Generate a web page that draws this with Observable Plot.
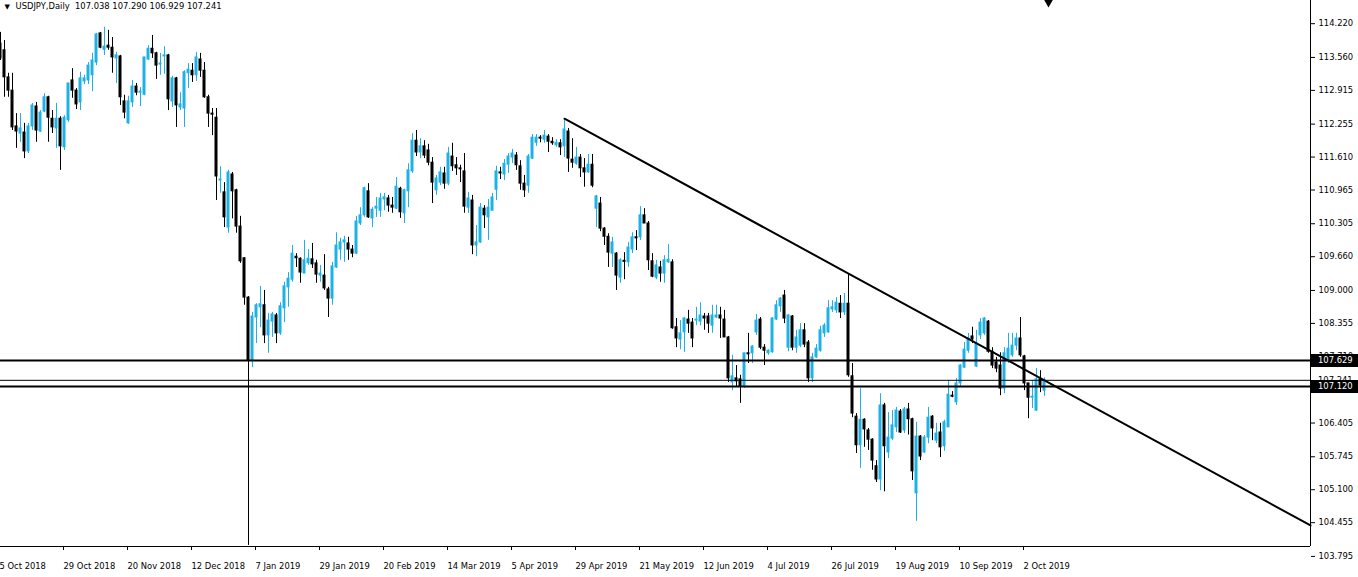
<!DOCTYPE html>
<html>
<head>
<meta charset="utf-8">
<script src="https://cdn.jsdelivr.net/npm/d3@7"></script>
<script src="https://cdn.jsdelivr.net/npm/@observablehq/plot@0.6"></script>
<style>
  html, body { margin: 0; padding: 0; background: #ffffff; }
  #chart svg { display: block; }
</style>
</head>
<body>
<div id="chart"></div>
<script>
// ---- data (daily bars, index 0 = 5 Oct 2018) ----
const symbolName = "USDJPY,Daily";
const opens = [113.83,113.70,113.17,112.91,112.21,112.07,112.09,111.72,112.21,112.60,112.11,112.50,112.78,112.36,112.17,112.36,111.80,112.33,113.11,112.91,112.68,113.09,113.11,113.21,113.46,114.03,113.71,113.79,113.75,113.54,113.58,112.70,112.27,112.68,112.99,112.87,112.83,113.52,113.73,113.64,113.42,113.58,113.60,112.70,113.15,112.58,112.56,113.25,113.30,113.21,113.52,113.30,112.78,112.46,112.38,111.15,110.92,110.23,111.27,110.96,110.25,109.63,108.86,107.63,108.47,108.67,108.71,108.12,108.39,108.51,108.16,108.65,109.06,109.21,109.66,109.62,109.33,109.53,109.61,109.53,109.29,109.29,109.02,108.84,109.45,109.80,109.94,109.92,109.80,109.72,110.31,110.47,110.94,110.41,110.60,110.56,110.78,110.80,110.66,110.60,110.99,110.51,110.94,111.33,111.93,111.70,111.82,111.74,111.50,110.96,111.11,111.29,111.09,111.62,111.45,111.39,111.33,110.62,110.76,109.88,109.94,110.60,110.43,110.56,110.97,111.31,111.27,111.46,111.60,111.64,111.43,111.09,111.05,111.58,111.89,111.99,111.95,112.01,111.91,111.84,111.88,111.82,112.11,111.56,111.48,111.60,111.39,111.31,111.46,110.60,110.70,110.21,110.05,109.72,109.72,109.25,109.58,109.55,109.80,110.04,110.04,110.47,110.31,109.57,109.25,109.45,109.33,109.55,109.55,108.28,108.04,108.18,108.43,108.37,108.41,108.39,108.49,108.49,108.31,108.47,108.51,108.43,108.08,107.20,107.28,107.26,107.12,107.77,107.77,108.18,108.43,107.88,107.77,107.79,108.43,108.69,108.90,107.88,108.49,107.88,107.92,108.22,107.98,107.28,107.69,107.82,108.16,108.18,108.63,108.61,108.74,108.57,108.74,107.32,106.53,105.97,106.47,106.26,106.08,105.56,105.30,106.75,105.83,106.10,106.32,106.63,106.26,106.67,106.48,105.03,106.14,105.83,106.12,106.53,106.06,106.22,105.95,106.32,106.94,106.81,107.18,107.49,107.82,108.10,107.51,108.12,108.16,108.39,107.80,107.59,107.53,107.08,107.63,107.73,107.92,108.06,107.71,107.18,106.90,106.65,107.26,107.038];
const highs = [114.05,113.89,113.25,113.25,112.46,112.46,112.27,112.27,112.66,112.68,112.52,112.85,112.80,112.52,112.66,112.40,112.42,113.05,113.34,112.95,113.27,113.21,113.46,113.64,114.03,114.05,114.15,114.09,113.95,113.66,113.60,112.82,112.80,113.11,113.05,112.97,113.56,113.79,113.99,113.66,113.64,113.77,113.62,113.19,113.17,112.87,113.30,113.44,113.44,113.66,113.64,113.46,112.82,112.56,112.56,111.42,111.11,111.35,111.31,110.98,110.45,109.64,108.88,108.57,108.74,109.08,109.00,108.55,108.57,108.55,108.76,109.16,109.35,109.88,109.72,109.64,109.98,109.80,109.92,109.59,109.49,109.70,109.06,109.55,110.13,110.02,110.06,110.04,109.88,110.45,110.62,111.02,111.09,110.62,110.82,110.90,110.90,110.86,110.82,111.21,111.02,110.98,111.48,112.07,112.13,111.97,111.93,111.86,111.60,111.25,111.41,111.41,111.80,111.88,111.60,111.45,111.68,110.92,110.86,110.27,110.70,110.66,110.78,110.90,111.43,111.41,111.56,111.68,111.76,111.70,111.54,111.25,111.66,112.05,112.05,112.03,112.13,112.05,111.99,111.95,111.95,112.36,112.17,111.97,111.80,111.66,111.58,111.66,111.66,110.86,110.82,110.23,110.11,110.04,109.74,109.62,109.74,109.94,110.13,110.17,110.64,110.60,110.35,109.72,109.59,109.57,109.68,109.90,109.60,108.45,108.41,108.47,108.61,108.45,108.67,108.76,108.55,108.55,108.71,108.71,108.67,108.61,108.10,107.73,107.53,107.34,107.77,108.16,107.92,108.53,108.47,107.94,107.84,108.47,108.80,108.86,109.00,108.53,108.51,108.22,108.35,108.35,108.02,107.77,107.94,108.30,108.35,108.80,108.80,108.86,108.90,108.94,109.33,107.57,106.59,107.08,106.49,106.30,106.10,105.67,106.98,106.79,106.61,106.65,106.71,106.67,106.71,106.79,106.50,106.42,106.16,106.16,106.71,106.55,106.40,106.40,106.46,107.24,107.02,107.28,107.55,107.98,108.16,108.28,108.22,108.45,108.47,108.41,107.88,107.69,107.78,107.88,108.16,108.16,108.16,108.47,107.73,107.18,107.24,107.47,107.43,107.290];
const lows = [113.50,112.78,112.78,112.13,111.78,111.90,111.58,111.68,112.13,111.90,112.09,112.48,111.90,112.07,111.78,111.35,111.74,112.29,112.76,112.54,112.52,113.03,113.03,112.89,113.40,113.73,113.60,113.70,113.25,113.05,112.62,112.36,112.25,112.58,112.81,112.60,112.81,113.50,113.54,113.13,113.21,113.23,112.52,112.58,112.19,112.52,112.19,112.95,113.07,113.09,113.17,112.76,112.19,112.03,110.76,110.90,110.23,110.12,110.40,110.12,109.53,108.71,104.01,107.49,107.96,108.27,107.96,107.77,108.08,107.96,108.12,108.37,108.67,109.16,109.45,109.14,109.33,109.49,109.43,109.14,109.16,109.00,108.47,108.71,109.43,109.59,109.55,109.59,109.64,109.70,110.27,110.43,110.41,110.23,110.43,110.43,110.56,110.53,110.51,110.58,110.41,110.31,110.62,111.29,111.62,111.58,111.58,111.44,110.70,110.86,111.05,110.98,111.05,111.33,111.25,111.11,110.51,110.51,109.70,109.66,109.92,110.21,109.98,110.56,110.76,111.17,111.15,111.29,111.48,111.35,110.96,110.82,110.90,111.56,111.82,111.89,111.88,111.70,111.84,111.80,111.64,111.60,111.31,111.39,111.45,111.21,111.02,111.29,111.01,110.23,110.15,109.88,109.45,109.45,109.00,109.14,109.21,109.45,109.72,109.78,109.98,110.31,109.39,109.25,109.21,109.16,109.14,109.53,108.24,107.88,107.84,107.79,108.16,107.88,108.31,108.31,108.22,108.16,108.16,108.45,108.06,108.08,107.20,107.04,107.10,106.79,107.08,107.57,107.57,108.12,107.84,107.53,107.73,107.77,108.41,108.57,108.35,107.80,107.82,107.77,107.88,107.88,107.20,107.20,107.67,107.79,108.08,108.16,108.57,108.55,108.45,108.51,107.30,106.51,105.81,105.52,105.93,105.87,105.48,105.24,105.08,105.06,105.71,106.06,106.22,106.20,106.20,106.17,105.28,104.48,105.67,105.81,106.00,106.06,106.00,105.73,105.85,106.32,106.90,106.75,107.12,107.47,107.77,107.96,107.49,108.04,108.12,107.77,107.47,107.39,106.94,106.98,107.57,107.69,107.82,107.69,107.04,106.49,106.69,106.63,107.00,106.929];
const closes = [113.54,113.17,112.91,112.19,112.11,112.17,111.72,112.21,112.62,112.13,112.48,112.78,112.38,112.19,112.36,111.82,112.38,113.05,112.91,112.64,113.15,113.15,113.40,113.50,114.01,113.75,113.77,113.75,113.56,113.60,112.78,112.48,112.70,112.99,112.87,112.89,113.56,113.73,113.64,113.40,113.44,113.60,112.74,113.15,112.62,112.64,113.27,113.32,113.21,113.56,113.30,112.78,112.46,112.44,111.23,111.17,110.43,111.31,110.94,110.25,109.57,108.86,107.63,108.49,108.71,108.73,108.12,108.41,108.53,108.16,108.69,109.08,109.23,109.72,109.63,109.35,109.59,109.62,109.51,109.31,109.33,109.04,108.84,109.47,109.88,109.94,109.98,109.80,109.72,110.35,110.47,111.00,110.43,110.58,110.64,110.80,110.82,110.66,110.62,111.03,110.53,110.96,111.35,111.93,111.70,111.82,111.64,111.50,111.11,111.19,111.31,111.09,111.68,111.43,111.39,111.37,110.64,110.80,109.88,109.94,110.62,110.47,110.62,110.82,111.33,111.29,111.48,111.62,111.68,111.45,111.09,110.96,111.62,111.99,111.99,111.97,112.03,111.91,111.88,111.89,111.80,112.15,111.58,111.50,111.60,111.39,111.31,111.46,111.05,110.84,110.21,110.05,109.74,109.94,109.29,109.59,109.56,109.84,110.04,110.02,110.47,110.31,109.59,109.27,109.49,109.33,109.59,109.60,108.26,108.06,108.16,108.45,108.35,108.06,108.43,108.51,108.45,108.35,108.51,108.51,108.45,108.08,107.28,107.32,107.22,107.12,107.77,107.75,107.90,108.41,107.88,107.82,107.82,108.45,108.71,108.84,108.45,108.51,107.88,108.08,108.22,107.94,107.28,107.69,107.86,108.22,108.31,108.65,108.67,108.76,108.57,108.74,107.34,106.59,105.97,106.47,106.28,106.08,105.67,105.30,106.75,105.95,106.12,106.36,106.65,106.22,106.67,106.48,105.46,106.14,105.75,106.12,106.51,106.30,106.20,105.93,106.42,106.96,106.92,107.18,107.53,107.84,108.06,108.04,107.96,108.37,108.45,107.80,107.53,107.47,107.08,107.77,107.86,107.92,108.06,107.73,107.18,106.90,106.92,107.26,107.14,107.241];

const xTickBars = [0,16,32,48,64,80,96,112,128,144,160,176,192,208,224,240,256];
const xTickLabels = ["5 Oct 2018","29 Oct 2018","20 Nov 2018","12 Dec 2018","7 Jan 2019","29 Jan 2019","20 Feb 2019","14 Mar 2019","5 Apr 2019","29 Apr 2019","21 May 2019","12 Jun 2019","4 Jul 2019","26 Jul 2019","19 Aug 2019","10 Sep 2019","2 Oct 2019"];
const yTickValues = [114.220,113.560,112.915,112.255,111.610,110.965,110.305,109.660,109.000,108.355,107.710,107.050,106.405,105.745,105.100,104.455,103.795];

const levelLines = [107.629, 107.120];   // drawn horizontal levels (thick)
const bidPrice = 107.241;                 // current bid line (thin)
const trendAnchors = [{bar: 141, price: 112.36}, {bar: 212, price: 109.33}];
const chartShiftBar = 262;

const xDomain = [0, 327.5];
const yDomain = [103.989, 114.674];
const bullColor = "#1EB1E6";
const bearColor = "#000000";
const FONT = "DejaVu Sans";
const FS = 8.4;

// ---- build ----
const candles = opens.map((o, i) => ({bar: i, open: o, high: highs[i], low: lows[i], close: closes[i]}));
const bulls = candles.filter(d => d.close >= d.open);
const bears = candles.filter(d => d.close < d.open);

const slope = (trendAnchors[1].price - trendAnchors[0].price) / (trendAnchors[1].bar - trendAnchors[0].bar);
const trendPoints = [trendAnchors[0], trendAnchors[1], {bar: xDomain[1], price: trendAnchors[0].price + slope * (xDomain[1] - trendAnchors[0].bar)}];

const last = candles[candles.length - 1];
const titleText = `${symbolName}  ${last.open.toFixed(3)} ${last.high.toFixed(3)} ${last.low.toFixed(3)} ${last.close.toFixed(3)}`;

const bodyOpts = (fill) => ({
  x1: d => d.bar - 0.375, x2: d => d.bar + 0.375,
  y1: "open", y2: "close", fill, insetTop: -0.5, insetBottom: -0.5
});

const chart = Plot.plot({
  width: 1358,
  height: 577,
  marginLeft: 0,
  marginRight: 48,
  marginTop: 0,
  marginBottom: 31,
  style: {fontFamily: FONT, fontSize: FS + "px", background: "#ffffff", color: "#000", overflow: "visible"},
  x: {type: "linear", domain: xDomain},
  y: {type: "linear", domain: yDomain},
  marks: [
    // wicks
    Plot.ruleX(bulls, {x: "bar", y1: "low", y2: "high", stroke: bullColor, strokeWidth: 1}),
    Plot.ruleX(bears, {x: "bar", y1: "low", y2: "high", stroke: bearColor, strokeWidth: 1}),
    // bodies
    Plot.rect(bulls, bodyOpts(bullColor)),
    Plot.rect(bears, bodyOpts(bearColor)),
    // horizontal levels
    Plot.ruleY(levelLines, {stroke: "#000", strokeWidth: 2}),
    Plot.ruleY([bidPrice], {stroke: "#000", strokeWidth: 1}),
    // trend line
    Plot.line(trendPoints, {x: "bar", y: "price", stroke: "#000", strokeWidth: 2}),
    // chart frame (right and bottom)
    Plot.ruleX([xDomain[1]], {stroke: "#000", strokeWidth: 1}),
    Plot.ruleY([yDomain[0]], {stroke: "#000", strokeWidth: 1}),
    // axes
    Plot.axisY({anchor: "right", ticks: yTickValues, tickFormat: d => d.toFixed(3), tickSize: 4, tickPadding: 4, label: null}),
    Plot.axisX({anchor: "bottom", ticks: xTickBars, tickFormat: d => xTickLabels[xTickBars.indexOf(d)], tickSize: 4, tickPadding: 13, textAnchor: "start", dx: -1, label: null}),
    // chart shift marker
    Plot.dot([chartShiftBar], {x: d => d, frameAnchor: "top", symbol: "triangle", rotate: 180, r: 3.2, fill: "#000", stroke: "none", dy: 2}),
    // header
    Plot.text(["▼"], {frameAnchor: "top-left", dx: 4, dy: 4, fontSize: 7, textAnchor: "start", lineAnchor: "top"}),
    Plot.text([titleText], {frameAnchor: "top-left", dx: 15, dy: 3, textAnchor: "start", lineAnchor: "top"})
  ]
});

document.getElementById("chart").appendChild(chart);

// price tags on the right scale (positions from the plot's own y scale)
const yScale = chart.scale("y");
const svg = d3.select(chart);
const tagX = 1311;
// current bid label (plain)
svg.append("text")
  .attr("x", 1318).attr("y", yScale.apply(bidPrice) + 0.5)
  .attr("dy", "0.32em").attr("text-anchor", "start")
  .attr("font-family", FONT).attr("font-size", FS).attr("fill", "#000")
  .text(bidPrice.toFixed(3));
for (const v of levelLines) {
  const y = yScale.apply(v) + 0.5;
  svg.append("rect").attr("x", tagX).attr("y", y - 6.5).attr("width", 47).attr("height", 13).attr("fill", "#000");
  svg.append("text")
    .attr("x", 1318).attr("y", y)
    .attr("dy", "0.32em").attr("text-anchor", "start")
    .attr("font-family", FONT).attr("font-size", FS).attr("fill", "#fff")
    .text(v.toFixed(3));
}
</script>
</body>
</html>
